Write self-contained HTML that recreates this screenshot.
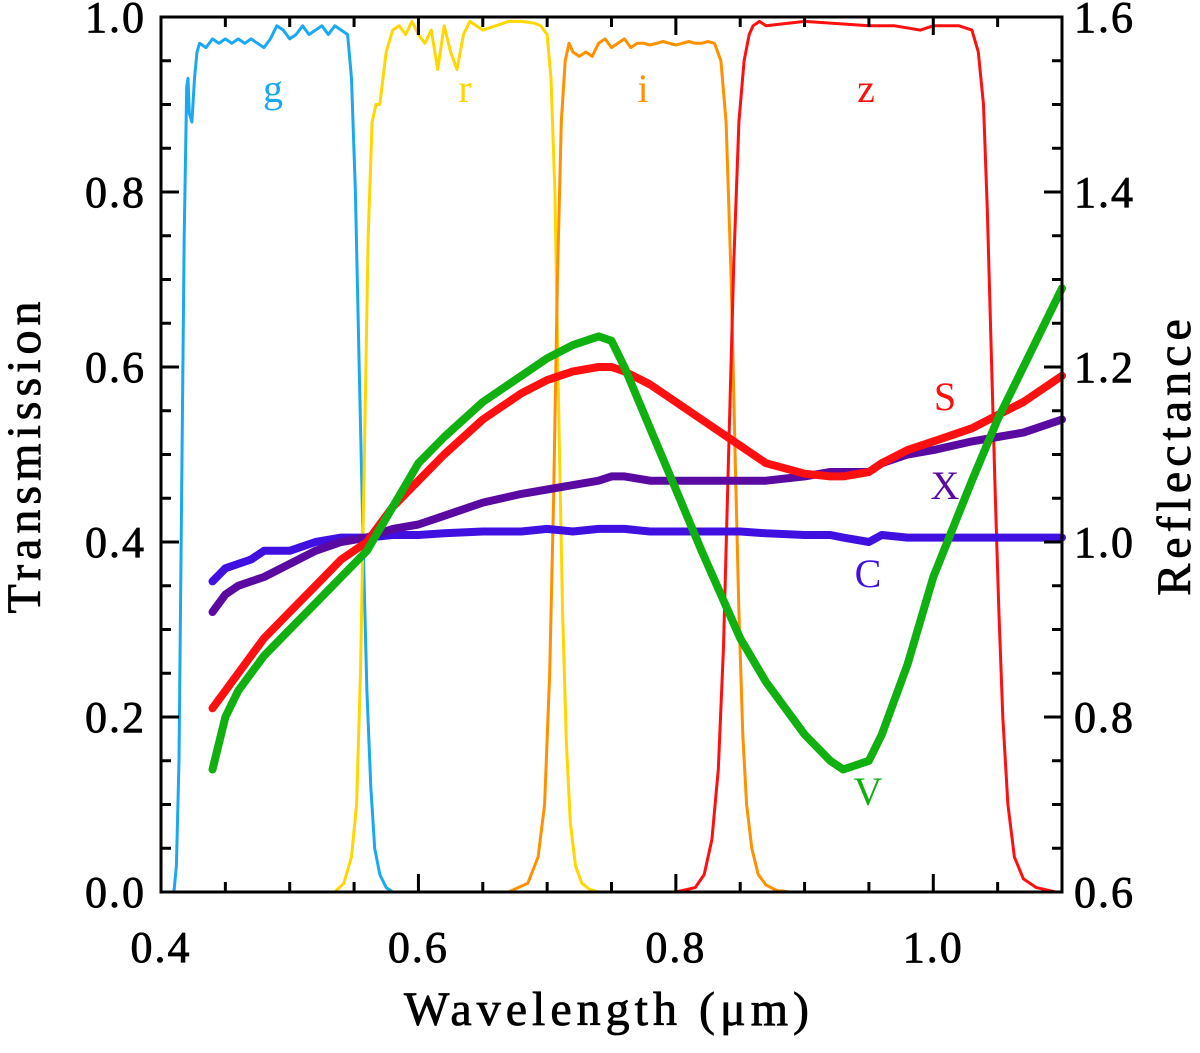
<!DOCTYPE html>
<html><head><meta charset="utf-8">
<style>
html,body{margin:0;padding:0;background:#fff;}
svg{display:block;}
text{font-family:"Liberation Serif","DejaVu Serif",serif;}
</style></head>
<body>
<svg id="chart" width="1200" height="1053" viewBox="0 0 1200 1053" xmlns="http://www.w3.org/2000/svg">
<g id="filters"></g>
<g id="spectra"></g>
<g id="axes"></g>
<g id="labels"></g>
</svg>
<script>
// ---- data ----
const xTicks = [0.4, 0.6, 0.8, 1.0];
const xTickLabels = ["0.4", "0.6", "0.8", "1.0"];
const yTicks = [0.0, 0.2, 0.4, 0.6, 0.8, 1.0];
const yTickLabels = ["0.0", "0.2", "0.4", "0.6", "0.8", "1.0"];
const y2Ticks = [0.6, 0.8, 1.0, 1.2, 1.4, 1.6];
const y2TickLabels = ["0.6", "0.8", "1.0", "1.2", "1.4", "1.6"];

const gWave = [0.405,0.41,0.412,0.414,0.416,0.418,0.42,0.421,0.422,0.424,0.426,0.428,0.43,0.435,0.44,0.445,0.45,0.455,0.46,0.465,0.47,0.475,0.48,0.485,0.49,0.495,0.5,0.505,0.51,0.515,0.52,0.525,0.53,0.535,0.54,0.545,0.548,0.551,0.554,0.557,0.56,0.563,0.566,0.57,0.575,0.58,1.1];
const gTrans = [0,0,0.03,0.15,0.45,0.75,0.92,0.93,0.89,0.88,0.93,0.96,0.97,0.965,0.975,0.97,0.975,0.97,0.975,0.97,0.975,0.97,0.965,0.975,0.99,0.985,0.975,0.98,0.99,0.98,0.985,0.99,0.98,0.99,0.985,0.98,0.93,0.8,0.6,0.4,0.23,0.12,0.05,0.02,0.005,0,0];
const rWave = [0.4,0.535,0.542,0.548,0.552,0.555,0.558,0.561,0.564,0.567,0.57,0.575,0.58,0.585,0.59,0.595,0.6,0.605,0.61,0.615,0.62,0.625,0.63,0.635,0.64,0.65,0.66,0.67,0.68,0.69,0.695,0.7,0.703,0.706,0.709,0.712,0.715,0.718,0.722,0.727,0.733,0.74,1.1];
const rTrans = [0,0,0.01,0.04,0.1,0.25,0.5,0.75,0.88,0.9,0.9,0.96,0.985,0.99,0.98,0.995,0.98,0.97,0.985,0.94,0.99,0.96,0.94,0.98,0.995,0.985,0.99,0.995,0.995,0.993,0.99,0.98,0.93,0.8,0.55,0.32,0.17,0.08,0.03,0.01,0.003,0,0];
const iWave = [0.4,0.67,0.685,0.693,0.698,0.702,0.705,0.708,0.711,0.714,0.717,0.72,0.725,0.73,0.735,0.74,0.745,0.75,0.755,0.76,0.765,0.77,0.775,0.78,0.785,0.79,0.795,0.8,0.805,0.81,0.815,0.82,0.825,0.83,0.835,0.839,0.843,0.846,0.849,0.852,0.855,0.859,0.864,0.87,0.878,0.888,1.1];
const iTrans = [0,0,0.01,0.04,0.1,0.25,0.45,0.7,0.88,0.95,0.97,0.96,0.955,0.96,0.955,0.97,0.975,0.965,0.97,0.975,0.965,0.97,0.97,0.968,0.97,0.972,0.97,0.968,0.97,0.972,0.97,0.97,0.972,0.97,0.95,0.88,0.7,0.5,0.32,0.18,0.1,0.05,0.02,0.008,0.002,0,0];
const zWave = [0.4,0.8,0.815,0.822,0.828,0.833,0.837,0.841,0.845,0.849,0.853,0.857,0.86,0.865,0.87,0.9,0.95,0.97,0.99,1.0,1.02,1.03,1.035,1.039,1.042,1.045,1.048,1.051,1.054,1.058,1.063,1.07,1.08,1.095,1.1];
const zTrans = [0,0,0.005,0.02,0.06,0.14,0.28,0.5,0.72,0.88,0.95,0.98,0.99,0.995,0.99,0.995,0.99,0.99,0.985,0.99,0.99,0.985,0.96,0.9,0.78,0.62,0.46,0.32,0.2,0.1,0.04,0.015,0.005,0,0];

const specWave = [0.44,0.45,0.46,0.47,0.48,0.5,0.52,0.54,0.56,0.58,0.6,0.62,0.65,0.68,0.7,0.72,0.74,0.75,0.76,0.78,0.8,0.82,0.85,0.87,0.9,0.92,0.93,0.95,0.96,0.98,1.0,1.03,1.05,1.07,1.1];
const sRefl = [0.81,0.83,0.85,0.87,0.89,0.92,0.95,0.98,1.0,1.04,1.07,1.1,1.14,1.17,1.185,1.195,1.2,1.2,1.195,1.18,1.16,1.14,1.11,1.09,1.078,1.075,1.075,1.08,1.09,1.105,1.115,1.13,1.145,1.16,1.19];
const vRefl = [0.74,0.8,0.83,0.85,0.87,0.9,0.93,0.96,0.99,1.04,1.09,1.12,1.16,1.19,1.21,1.225,1.235,1.23,1.2,1.13,1.06,0.99,0.89,0.84,0.78,0.75,0.74,0.75,0.78,0.86,0.96,1.07,1.14,1.2,1.29];
const xRefl = [0.92,0.94,0.95,0.955,0.96,0.975,0.99,1.0,1.005,1.015,1.02,1.03,1.045,1.055,1.06,1.065,1.07,1.075,1.075,1.07,1.07,1.07,1.07,1.07,1.075,1.08,1.08,1.08,1.09,1.1,1.105,1.115,1.12,1.125,1.14];
const cRefl = [0.955,0.97,0.975,0.98,0.99,0.99,1.0,1.005,1.005,1.008,1.008,1.01,1.012,1.012,1.015,1.012,1.015,1.015,1.015,1.012,1.012,1.012,1.012,1.01,1.008,1.008,1.005,1.0,1.008,1.005,1.005,1.005,1.005,1.005,1.005];

// ---- scales ----
const X0=161, X1=1062, Y0=892, Y1=17;
const sx = w => X0 + (w-0.4)/(1.1-0.4)*(X1-X0);
const sy = t => Y0 - t*(Y0-Y1);
const sy2 = r => Y0 - (r-0.6)*(Y0-Y1);
const NS="http://www.w3.org/2000/svg";
function mk(tag, attrs, parent){const e=document.createElementNS(NS,tag);for(const k in attrs)e.setAttribute(k,attrs[k]);parent.appendChild(e);return e;}

// filters
const fG=document.getElementById('filters');
const filters=[["g",gWave,gTrans,"#1aa9f0"],["r",rWave,rTrans,"#ffd700"],["i",iWave,iTrans,"#ff9000"],["z",zWave,zTrans,"#ff1010"]];
filters.forEach(f=>{
  const pts=f[1].map((w,k)=>sx(w).toFixed(1)+","+sy(f[2][k]).toFixed(1)).join(" ");
  const p=mk('polyline',{points:pts,fill:"none",stroke:f[3],"stroke-width":3,"stroke-linejoin":"round"},fG);
  
  
});

// spectra
const sG=document.getElementById('spectra');
const spectra=[["c",cRefl,"#4010e0"],["x",xRefl,"#5a0aa0"],["s",sRefl,"#ff1010"],["v",vRefl,"#10b010"]];
spectra.forEach(s=>{
  const pts=specWave.map((w,k)=>sx(w).toFixed(1)+","+sy2(s[1][k]).toFixed(1)).join(" ");
  const p=mk('polyline',{points:pts,fill:"none",stroke:s[2],"stroke-width":8,"stroke-linejoin":"round","stroke-linecap":"round"},sG);
  
  
});

// axes
const aG=document.getElementById('axes');
const frame=mk('rect',{x:X0,y:Y1,width:X1-X0,height:Y0-Y1,fill:"none",stroke:"#000","stroke-width":3},aG);


for(let w=0.45;w<1.1;w+=0.05){
  const major=Math.abs(w*10-Math.round(w*10))<1e-6 && Math.round(w*10)%2===0;
  const L=major?18:10;
  mk('line',{x1:sx(w),x2:sx(w),y1:Y0,y2:Y0-L,stroke:"#000","stroke-width":3},aG);
  mk('line',{x1:sx(w),x2:sx(w),y1:Y1,y2:Y1+L,stroke:"#000","stroke-width":3},aG);
}
for(let t=0.05;t<1.0;t+=0.05){
  const major=Math.abs(t*5-Math.round(t*5))<1e-6;
  const L=major?18:10;
  mk('line',{x1:X0,x2:X0+L,y1:sy(t),y2:sy(t),stroke:"#000","stroke-width":3},aG);
  mk('line',{x1:X1,x2:X1-L,y1:sy(t),y2:sy(t),stroke:"#000","stroke-width":3},aG);
}
const tickStyle={"font-size":44,"letter-spacing":2,stroke:"#000","stroke-width":0.8};
xTicks.forEach((w,k)=>{
  const t=mk('text',Object.assign({x:sx(w),y:962,"text-anchor":"middle"},tickStyle),aG);
  t.textContent=xTickLabels[k];
  
  
});
yTicks.forEach((v,k)=>{
  const t=mk('text',Object.assign({x:146,y:sy(v)+15,"text-anchor":"end"},tickStyle),aG);
  t.textContent=yTickLabels[k];
  
  
});
y2Ticks.forEach((v,k)=>{
  const t=mk('text',Object.assign({x:1074,y:sy2(v)+15,"text-anchor":"start"},tickStyle),aG);
  t.textContent=y2TickLabels[k];
  
  
});
</script>
<script>
const lG=document.getElementById('labels');
const NS2="http://www.w3.org/2000/svg";
function addText(txt,x,y,size,color,name,rot,ls,sw){
  const t=document.createElementNS(NS2,'text');
  t.setAttribute('x',x);t.setAttribute('y',y);
  t.setAttribute('font-size',size);t.setAttribute('fill',color);
  t.setAttribute('text-anchor','middle');
  if(ls)t.setAttribute('letter-spacing',ls);
  if(sw){t.setAttribute('stroke',color);t.setAttribute('stroke-width',sw);}
  if(rot)t.setAttribute('transform','rotate('+rot+' '+x+' '+y+')');
  t.textContent=txt;
  
  
  lG.appendChild(t);
}
addText("g",273,102,40,"#1aa9f0","label-g");
addText("r",465,102,40,"#ffd700","label-r");
addText("i",643,102,40,"#ff9000","label-i");
addText("z",866,102,40,"#ff1010","label-z");
addText("S",945,410,40,"#ff1010","label-s");
addText("X",945,499,40,"#5a0aa0","label-x");
addText("C",868,587,40,"#4010e0","label-c");
addText("V",868,805,40,"#10b010","label-v");
addText("Wavelength (\u03bcm)",609,1025,48,"#000","x-axis-title",0,5,0.8);
addText("Transmission",40,455,48,"#000","y-axis-title",-90,5,0.8);
addText("Reflectance",1190,455,48,"#000","y2-axis-title",-90,5,0.8);
</script>
</body></html>
